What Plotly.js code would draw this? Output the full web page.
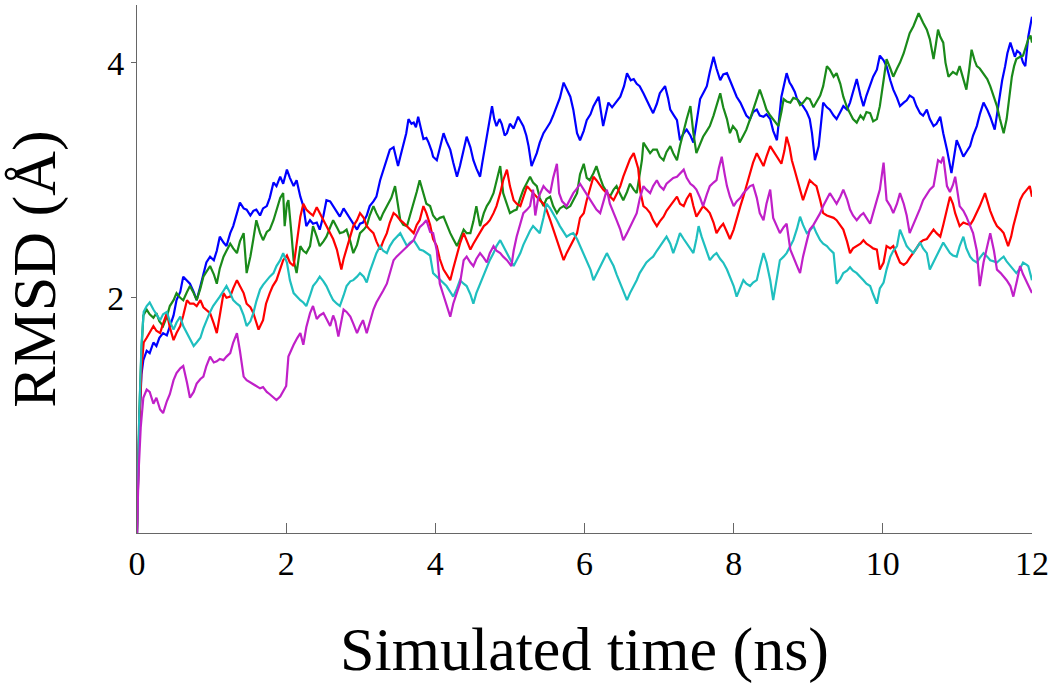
<!DOCTYPE html>
<html>
<head>
<meta charset="utf-8">
<script src="https://cdn.plot.ly/plotly-3.0.1.min.js"></script>
<style>html,body{margin:0;padding:0;background:#fff;}#chart{width:1050px;height:684px;}</style>
</head>
<body>
<div id="chart"></div>
<script>
// ---- Data (time in ns, RMSD in Å) ----
const xTicks = [0, 2, 4, 6, 8, 10, 12];
const yTicks = [2, 4];

const blueT = [0,0.03,0.06,0.085,0.13,0.17,0.22,0.26,0.30,0.35,0.40,0.44,0.49,0.53,0.58,0.62,0.67,0.71,0.76,0.80,0.85,0.89,0.93,0.98,1.03,1.07,1.11,1.16,1.20,1.25,1.29,1.34,1.38,1.43,1.47,1.52,1.56,1.60,1.65,1.69,1.74,1.78,1.83,1.87,1.92,1.96,2.01,2.05,2.10,2.14,2.19,2.23,2.27,2.32,2.36,2.41,2.45,2.50,2.54,2.59,2.63,2.68,2.72,2.77,2.81,2.86,2.90,2.95,2.99,3.03,3.08,3.12,3.17,3.21,3.26,3.30,3.35,3.39,3.44,3.50,3.53,3.57,3.61,3.64,3.68,3.71,3.74,3.77,3.81,3.84,3.88,3.91,3.95,3.97,4.02,4.06,4.11,4.15,4.20,4.24,4.29,4.33,4.38,4.42,4.47,4.51,4.55,4.60,4.63,4.67,4.71,4.76,4.79,4.82,4.86,4.89,4.93,4.96,5.00,5.05,5.11,5.15,5.18,5.22,5.25,5.29,5.33,5.36,5.40,5.45,5.49,5.54,5.58,5.63,5.67,5.72,5.76,5.81,5.85,5.90,5.94,5.99,6.03,6.08,6.12,6.19,6.25,6.29,6.32,6.37,6.41,6.45,6.48,6.53,6.57,6.62,6.66,6.70,6.74,6.79,6.83,6.88,6.92,6.97,7.01,7.08,7.12,7.15,7.20,7.24,7.28,7.33,7.37,7.42,7.46,7.50,7.55,7.60,7.64,7.68,7.73,7.77,7.82,7.86,7.91,7.95,8.00,8.04,8.09,8.13,8.17,8.22,8.26,8.31,8.35,8.40,8.44,8.49,8.53,8.58,8.64,8.71,8.75,8.78,8.82,8.85,8.89,8.93,8.98,9.02,9.05,9.09,9.14,9.17,9.20,9.25,9.29,9.34,9.38,9.43,9.47,9.52,9.56,9.60,9.65,9.70,9.74,9.78,9.83,9.87,9.92,9.96,10.01,10.05,10.10,10.14,10.19,10.23,10.28,10.32,10.36,10.41,10.45,10.50,10.54,10.59,10.63,10.68,10.72,10.77,10.81,10.86,10.92,10.95,10.99,11.03,11.08,11.12,11.17,11.21,11.26,11.30,11.35,11.40,11.44,11.50,11.53,11.57,11.60,11.64,11.67,11.71,11.74,11.77,11.80,11.84,11.88,11.91,11.95,11.98,12.0];
const blueR = [0,0.9,1.35,1.47,1.55,1.53,1.62,1.59,1.66,1.70,1.68,1.76,1.85,1.98,2.05,2.18,2.15,2.12,2.05,1.98,2.10,2.21,2.30,2.35,2.32,2.40,2.52,2.47,2.44,2.55,2.61,2.72,2.81,2.76,2.75,2.70,2.74,2.75,2.70,2.76,2.78,2.85,2.98,2.95,3.03,2.97,3.09,3.02,2.95,3.00,2.86,2.78,2.61,2.66,2.63,2.64,2.58,2.70,2.83,2.82,2.78,2.74,2.69,2.76,2.72,2.66,2.62,2.58,2.63,2.64,2.70,2.78,2.82,2.86,3.00,3.08,3.17,3.26,3.28,3.12,3.20,3.29,3.40,3.52,3.48,3.49,3.45,3.54,3.44,3.35,3.36,3.32,3.25,3.20,3.17,3.28,3.40,3.33,3.26,3.15,3.03,3.12,3.26,3.37,3.28,3.17,3.10,3.03,3.15,3.29,3.45,3.63,3.52,3.46,3.52,3.48,3.38,3.40,3.48,3.44,3.54,3.50,3.46,3.38,3.29,3.12,3.18,3.23,3.32,3.40,3.44,3.49,3.55,3.63,3.70,3.83,3.78,3.71,3.60,3.40,3.34,3.42,3.51,3.56,3.63,3.71,3.46,3.58,3.66,3.62,3.65,3.68,3.71,3.80,3.91,3.85,3.86,3.82,3.80,3.74,3.68,3.62,3.57,3.65,3.74,3.80,3.70,3.60,3.55,3.51,3.34,3.40,3.43,3.38,3.32,3.50,3.69,3.75,3.80,3.92,4.05,3.95,3.85,3.90,3.91,3.85,3.77,3.71,3.66,3.60,3.55,3.52,3.58,3.60,3.55,3.54,3.56,3.52,3.42,3.34,3.71,3.91,3.83,3.80,3.75,3.69,3.66,3.63,3.58,3.52,3.40,3.17,3.29,3.50,3.66,3.62,3.60,3.55,3.52,3.58,3.63,3.60,3.66,3.75,3.86,3.72,3.63,3.72,3.80,3.88,3.94,4.06,4.02,3.97,3.85,3.77,3.70,3.63,3.66,3.68,3.72,3.70,3.63,3.57,3.55,3.60,3.52,3.46,3.48,3.54,3.40,3.26,3.06,3.18,3.34,3.28,3.20,3.24,3.29,3.38,3.46,3.56,3.66,3.60,3.54,3.43,3.55,3.74,3.85,3.97,4.08,4.17,4.10,4.05,4.10,4.08,4.00,3.97,4.22,4.32,4.39];

const greenT = [0,0.03,0.06,0.085,0.13,0.17,0.22,0.26,0.30,0.35,0.40,0.44,0.49,0.53,0.58,0.62,0.67,0.71,0.76,0.80,0.85,0.89,0.93,0.98,1.03,1.07,1.11,1.16,1.20,1.25,1.29,1.34,1.38,1.43,1.47,1.52,1.56,1.60,1.65,1.69,1.74,1.78,1.83,1.87,1.92,1.96,1.98,2.01,2.03,2.07,2.10,2.14,2.19,2.23,2.27,2.32,2.36,2.41,2.45,2.50,2.54,2.59,2.63,2.68,2.72,2.77,2.81,2.86,2.90,2.95,2.99,3.04,3.08,3.12,3.17,3.21,3.26,3.30,3.35,3.41,3.46,3.50,3.53,3.57,3.62,3.66,3.71,3.75,3.79,3.84,3.88,3.93,3.97,4.02,4.06,4.11,4.15,4.20,4.24,4.29,4.33,4.38,4.42,4.47,4.51,4.55,4.60,4.65,4.69,4.73,4.78,4.82,4.87,4.91,4.96,5.00,5.05,5.09,5.14,5.18,5.23,5.27,5.31,5.36,5.40,5.45,5.49,5.54,5.58,5.63,5.67,5.72,5.76,5.81,5.85,5.90,5.94,5.99,6.03,6.07,6.12,6.16,6.21,6.25,6.30,6.34,6.39,6.43,6.48,6.52,6.57,6.61,6.66,6.70,6.74,6.77,6.79,6.83,6.88,6.92,6.97,7.01,7.06,7.10,7.15,7.19,7.24,7.28,7.33,7.37,7.42,7.46,7.50,7.55,7.59,7.64,7.68,7.73,7.77,7.82,7.86,7.91,7.95,7.99,8.04,8.08,8.13,8.17,8.22,8.26,8.31,8.35,8.40,8.44,8.49,8.53,8.60,8.64,8.67,8.71,8.76,8.80,8.85,8.89,8.93,8.98,9.02,9.07,9.11,9.16,9.20,9.25,9.29,9.34,9.38,9.43,9.47,9.52,9.56,9.60,9.65,9.70,9.74,9.78,9.83,9.87,9.92,9.96,10.01,10.05,10.10,10.14,10.19,10.23,10.28,10.32,10.36,10.41,10.45,10.48,10.54,10.59,10.63,10.68,10.71,10.74,10.77,10.81,10.84,10.88,10.94,10.99,11.03,11.08,11.12,11.16,11.19,11.23,11.26,11.30,11.35,11.40,11.44,11.48,11.53,11.57,11.62,11.66,11.70,11.73,11.76,11.79,11.84,11.88,11.91,11.95,11.98,12.0];
const greenR = [0,1.0,1.55,1.85,1.90,1.86,1.83,1.87,1.80,1.76,1.84,1.93,1.98,2.04,2.00,1.98,2.05,2.10,2.04,1.98,2.08,2.18,2.22,2.27,2.20,2.12,2.25,2.35,2.40,2.46,2.42,2.38,2.48,2.55,2.21,2.35,2.50,2.66,2.55,2.49,2.56,2.58,2.66,2.75,2.85,2.89,2.61,2.80,2.83,2.55,2.32,2.21,2.44,2.40,2.38,2.44,2.61,2.52,2.44,2.48,2.52,2.60,2.66,2.60,2.55,2.56,2.58,2.48,2.38,2.45,2.55,2.58,2.61,2.70,2.78,2.72,2.66,2.72,2.78,2.85,2.95,2.80,2.66,2.62,2.61,2.70,2.80,2.90,3.00,2.89,2.80,2.78,2.70,2.66,2.68,2.69,2.62,2.55,2.50,2.44,2.50,2.58,2.55,2.55,2.65,2.78,2.61,2.72,2.78,2.82,2.89,3.00,3.12,2.89,2.80,2.72,2.74,2.75,2.85,2.92,2.98,3.03,2.98,2.95,2.85,2.78,2.84,2.86,2.78,2.72,2.76,2.78,2.76,2.78,2.83,2.89,3.05,3.14,3.02,3.00,3.06,3.12,3.02,2.95,2.90,2.86,2.92,2.95,2.88,2.83,2.90,2.97,2.92,2.89,3.05,3.17,3.32,3.28,3.23,3.26,3.26,3.20,3.17,3.24,3.29,3.23,3.17,3.29,3.43,3.52,3.63,3.40,3.23,3.30,3.37,3.42,3.46,3.55,3.63,3.74,3.62,3.52,3.40,3.46,3.42,3.32,3.38,3.43,3.52,3.60,3.68,3.77,3.68,3.60,3.55,3.52,3.46,3.58,3.69,3.67,3.66,3.70,3.69,3.64,3.66,3.70,3.69,3.62,3.66,3.72,3.80,3.97,3.94,3.88,3.91,3.82,3.71,3.62,3.57,3.52,3.49,3.55,3.52,3.58,3.57,3.50,3.52,3.63,3.85,4.03,3.95,3.88,3.95,4.00,4.08,4.17,4.25,4.31,4.38,4.42,4.34,4.28,4.20,4.03,4.15,4.28,4.22,4.17,4.00,3.88,3.92,3.90,3.97,3.85,3.77,3.95,4.11,4.02,3.97,3.95,3.91,3.86,3.80,3.72,3.63,3.52,3.40,3.52,3.72,3.88,3.97,4.03,4.05,4.06,4.12,4.20,4.23,4.17];

const redT = [0,0.03,0.06,0.09,0.13,0.17,0.22,0.26,0.31,0.35,0.40,0.44,0.49,0.53,0.58,0.62,0.67,0.71,0.76,0.80,0.85,0.89,0.93,0.98,1.03,1.07,1.11,1.16,1.20,1.25,1.29,1.34,1.38,1.43,1.47,1.52,1.56,1.60,1.63,1.69,1.73,1.78,1.82,1.87,1.92,1.96,2.01,2.05,2.10,2.14,2.19,2.23,2.27,2.32,2.36,2.41,2.45,2.50,2.54,2.59,2.63,2.68,2.74,2.77,2.81,2.86,2.90,2.95,2.99,3.04,3.08,3.12,3.17,3.21,3.26,3.30,3.35,3.39,3.44,3.48,3.53,3.57,3.62,3.66,3.71,3.75,3.79,3.84,3.88,3.93,3.97,4.02,4.06,4.11,4.15,4.20,4.24,4.29,4.33,4.38,4.42,4.47,4.51,4.55,4.60,4.65,4.69,4.73,4.78,4.82,4.87,4.91,4.96,5.00,5.05,5.09,5.14,5.18,5.23,5.27,5.31,5.36,5.40,5.45,5.49,5.54,5.58,5.63,5.67,5.72,5.76,5.81,5.85,5.90,5.94,5.99,6.03,6.08,6.12,6.16,6.21,6.25,6.30,6.34,6.39,6.43,6.48,6.52,6.57,6.61,6.66,6.72,6.75,6.79,6.83,6.88,6.92,6.97,7.01,7.06,7.10,7.15,7.19,7.24,7.28,7.33,7.37,7.42,7.46,7.50,7.55,7.59,7.64,7.68,7.73,7.77,7.82,7.86,7.91,7.95,8.00,8.04,8.09,8.13,8.17,8.22,8.26,8.31,8.35,8.40,8.44,8.49,8.53,8.58,8.64,8.68,8.71,8.75,8.78,8.82,8.85,8.89,8.93,8.98,9.02,9.07,9.11,9.16,9.20,9.25,9.29,9.34,9.38,9.43,9.47,9.52,9.56,9.60,9.65,9.70,9.74,9.78,9.83,9.87,9.92,9.96,10.01,10.05,10.10,10.14,10.19,10.23,10.28,10.32,10.36,10.41,10.45,10.50,10.54,10.59,10.63,10.68,10.72,10.77,10.81,10.86,10.90,10.94,10.97,11.03,11.08,11.12,11.17,11.21,11.26,11.30,11.37,11.41,11.44,11.49,11.53,11.58,11.62,11.68,11.72,11.75,11.80,11.84,11.88,11.93,11.97,12.0];
const redR = [0,0.9,1.4,1.62,1.66,1.70,1.76,1.72,1.70,1.78,1.87,1.75,1.64,1.70,1.76,1.85,1.98,1.95,1.95,1.93,1.98,1.92,1.90,1.87,1.78,1.70,1.85,2.04,2.00,2.01,2.08,2.15,2.10,2.04,1.95,1.92,1.87,1.80,1.73,1.81,1.95,2.04,2.10,2.15,2.25,2.32,2.36,2.30,2.27,2.45,2.69,2.80,2.75,2.72,2.70,2.77,2.72,2.66,2.62,2.55,2.50,2.41,2.24,2.33,2.41,2.52,2.61,2.66,2.72,2.68,2.61,2.58,2.55,2.48,2.41,2.48,2.55,2.64,2.72,2.70,2.66,2.64,2.61,2.58,2.55,2.62,2.66,2.78,2.72,2.62,2.50,2.44,2.33,2.24,2.20,2.15,2.25,2.38,2.46,2.55,2.48,2.41,2.46,2.50,2.56,2.61,2.63,2.66,2.72,2.78,2.89,3.00,3.09,2.95,2.83,2.80,2.78,2.86,2.95,2.92,2.89,2.86,2.83,2.80,2.75,2.66,2.58,2.48,2.41,2.32,2.38,2.44,2.50,2.55,2.68,2.72,2.83,2.95,3.03,3.00,2.95,2.92,2.89,2.86,2.83,2.88,2.95,3.03,3.12,3.18,3.23,3.10,2.90,2.78,2.76,2.72,2.66,2.61,2.65,2.69,2.74,2.78,2.82,2.86,2.80,2.78,2.84,2.89,2.78,2.69,2.74,2.78,2.75,2.72,2.64,2.55,2.60,2.63,2.56,2.50,2.58,2.68,2.78,2.86,2.95,3.06,3.15,3.23,3.18,3.12,3.20,3.29,3.25,3.20,3.14,3.25,3.37,3.28,3.17,3.08,3.00,2.92,2.83,2.92,3.00,2.97,2.95,2.83,2.72,2.70,2.69,2.68,2.66,2.62,2.58,2.48,2.38,2.42,2.44,2.46,2.49,2.46,2.44,2.42,2.41,2.24,2.30,2.44,2.42,2.44,2.36,2.30,2.28,2.30,2.34,2.38,2.42,2.47,2.49,2.50,2.54,2.58,2.55,2.52,2.62,2.75,2.86,2.80,2.72,2.61,2.64,2.63,2.62,2.66,2.72,2.78,2.89,2.80,2.74,2.66,2.61,2.58,2.55,2.44,2.52,2.61,2.72,2.83,2.88,2.92,2.95,2.86];

const cyanT = [0,0.03,0.06,0.09,0.13,0.17,0.22,0.26,0.31,0.35,0.40,0.44,0.49,0.53,0.58,0.62,0.67,0.71,0.76,0.80,0.85,0.89,0.93,0.98,1.02,1.07,1.11,1.16,1.20,1.25,1.29,1.34,1.38,1.43,1.47,1.52,1.56,1.60,1.65,1.69,1.74,1.78,1.83,1.87,1.92,1.96,2.01,2.05,2.10,2.14,2.19,2.23,2.27,2.32,2.36,2.41,2.45,2.50,2.54,2.59,2.63,2.68,2.72,2.77,2.81,2.86,2.90,2.95,2.99,3.04,3.08,3.12,3.17,3.21,3.26,3.30,3.35,3.39,3.44,3.48,3.53,3.57,3.62,3.66,3.71,3.75,3.79,3.84,3.88,3.93,3.97,4.02,4.06,4.11,4.15,4.20,4.24,4.29,4.33,4.38,4.42,4.47,4.51,4.55,4.60,4.65,4.69,4.73,4.78,4.82,4.87,4.91,4.96,5.00,5.05,5.09,5.14,5.18,5.23,5.27,5.31,5.36,5.40,5.45,5.49,5.54,5.58,5.63,5.67,5.72,5.76,5.81,5.85,5.90,5.94,5.99,6.03,6.08,6.12,6.16,6.21,6.25,6.30,6.34,6.39,6.43,6.48,6.52,6.57,6.61,6.66,6.70,6.74,6.79,6.83,6.88,6.92,6.97,7.01,7.06,7.10,7.15,7.19,7.24,7.28,7.33,7.37,7.42,7.46,7.50,7.53,7.57,7.62,7.68,7.73,7.77,7.82,7.86,7.91,7.95,8.00,8.04,8.09,8.13,8.17,8.22,8.26,8.31,8.35,8.40,8.44,8.49,8.53,8.58,8.62,8.67,8.71,8.76,8.80,8.85,8.89,8.93,8.98,9.02,9.07,9.11,9.16,9.20,9.25,9.29,9.34,9.38,9.43,9.47,9.52,9.56,9.60,9.65,9.70,9.74,9.78,9.83,9.87,9.92,9.96,10.01,10.05,10.10,10.14,10.19,10.23,10.28,10.32,10.36,10.41,10.45,10.50,10.54,10.59,10.63,10.68,10.72,10.77,10.81,10.86,10.90,10.94,10.99,11.03,11.08,11.12,11.17,11.21,11.26,11.30,11.35,11.40,11.44,11.49,11.53,11.58,11.62,11.66,11.71,11.75,11.79,11.84,11.88,11.93,11.95,12.0];
const cyanR = [0,1.0,1.6,1.88,1.93,1.96,1.90,1.86,1.81,1.86,1.88,1.80,1.73,1.79,1.84,1.76,1.70,1.64,1.59,1.62,1.66,1.74,1.81,1.88,1.93,1.97,2.01,2.06,2.10,2.04,1.98,1.95,1.93,1.85,1.76,1.80,1.87,1.97,2.07,2.11,2.15,2.18,2.21,2.27,2.32,2.38,2.30,2.15,2.04,2.01,1.98,1.96,1.93,2.02,2.10,2.14,2.18,2.14,2.10,2.03,1.98,1.95,1.93,2.02,2.10,2.14,2.15,2.18,2.21,2.18,2.13,2.22,2.30,2.38,2.44,2.40,2.38,2.44,2.49,2.52,2.55,2.50,2.44,2.47,2.49,2.45,2.41,2.40,2.38,2.36,2.21,2.18,2.16,2.13,2.10,2.05,2.01,2.08,2.15,2.12,2.10,2.03,1.95,2.04,2.12,2.20,2.27,2.32,2.38,2.44,2.49,2.44,2.38,2.33,2.27,2.32,2.38,2.45,2.52,2.57,2.61,2.58,2.55,2.68,2.80,2.76,2.72,2.66,2.61,2.56,2.52,2.54,2.55,2.50,2.44,2.38,2.32,2.24,2.15,2.20,2.26,2.32,2.38,2.33,2.27,2.20,2.12,2.06,1.98,2.04,2.10,2.15,2.21,2.26,2.30,2.33,2.35,2.40,2.44,2.48,2.52,2.46,2.38,2.47,2.55,2.50,2.46,2.42,2.38,2.50,2.61,2.52,2.43,2.32,2.36,2.38,2.33,2.30,2.24,2.18,2.10,2.01,2.08,2.15,2.12,2.10,2.13,2.15,2.26,2.38,2.30,2.15,1.98,2.15,2.32,2.35,2.38,2.44,2.49,2.59,2.69,2.62,2.55,2.57,2.61,2.55,2.49,2.46,2.44,2.41,2.38,2.12,2.16,2.21,2.23,2.26,2.23,2.21,2.18,2.15,2.12,2.10,2.03,1.95,2.08,2.13,2.24,2.35,2.40,2.44,2.58,2.50,2.44,2.41,2.38,2.42,2.47,2.42,2.38,2.24,2.30,2.36,2.42,2.47,2.42,2.38,2.36,2.35,2.44,2.52,2.42,2.35,2.32,2.30,2.34,2.38,2.35,2.32,2.31,2.30,2.33,2.35,2.31,2.27,2.24,2.21,2.25,2.30,2.28,2.27,2.15];

const magT = [0,0.02,0.05,0.085,0.13,0.17,0.22,0.26,0.31,0.35,0.40,0.44,0.49,0.53,0.58,0.62,0.67,0.71,0.76,0.80,0.85,0.89,0.93,0.98,1.03,1.07,1.11,1.16,1.20,1.25,1.29,1.34,1.38,1.43,1.47,1.52,1.56,1.60,1.65,1.69,1.74,1.78,1.83,1.87,1.92,1.96,2.00,2.03,2.07,2.10,2.15,2.19,2.23,2.27,2.32,2.36,2.41,2.45,2.50,2.54,2.59,2.63,2.66,2.70,2.74,2.77,2.81,2.86,2.90,2.95,2.99,3.03,3.08,3.12,3.17,3.21,3.26,3.30,3.35,3.39,3.44,3.48,3.53,3.57,3.62,3.66,3.71,3.75,3.79,3.84,3.88,3.93,3.97,4.02,4.06,4.11,4.15,4.20,4.24,4.29,4.33,4.38,4.42,4.47,4.51,4.55,4.60,4.65,4.69,4.73,4.78,4.82,4.87,4.91,4.96,5.02,5.05,5.09,5.14,5.18,5.23,5.27,5.31,5.34,5.38,5.45,5.49,5.54,5.58,5.63,5.66,5.70,5.76,5.81,5.85,5.90,5.94,5.99,6.03,6.08,6.12,6.16,6.21,6.25,6.30,6.34,6.39,6.43,6.48,6.52,6.57,6.61,6.66,6.70,6.74,6.79,6.83,6.88,6.92,6.97,7.01,7.06,7.10,7.15,7.19,7.24,7.28,7.33,7.37,7.42,7.46,7.50,7.55,7.59,7.64,7.68,7.73,7.77,7.80,7.84,7.88,7.91,7.95,8.00,8.04,8.09,8.13,8.17,8.22,8.26,8.31,8.35,8.40,8.44,8.49,8.53,8.58,8.62,8.67,8.71,8.76,8.80,8.85,8.89,8.93,8.98,9.02,9.07,9.11,9.16,9.20,9.25,9.29,9.34,9.38,9.43,9.47,9.52,9.56,9.60,9.65,9.70,9.74,9.78,9.83,9.87,9.92,9.96,10.01,10.05,10.10,10.14,10.19,10.23,10.28,10.32,10.36,10.41,10.45,10.50,10.54,10.59,10.63,10.68,10.74,10.78,10.81,10.86,10.90,10.94,10.97,11.03,11.08,11.12,11.17,11.21,11.26,11.30,11.35,11.40,11.44,11.49,11.53,11.58,11.62,11.66,11.71,11.75,11.80,11.84,11.88,11.93,11.97,12.0];
const magR = [0,0.5,0.9,1.15,1.22,1.20,1.10,1.15,1.05,1.02,1.12,1.18,1.30,1.36,1.40,1.42,1.28,1.15,1.20,1.27,1.31,1.33,1.42,1.50,1.45,1.46,1.48,1.47,1.50,1.53,1.62,1.70,1.55,1.33,1.30,1.28,1.26,1.25,1.23,1.24,1.20,1.18,1.15,1.13,1.16,1.20,1.25,1.50,1.56,1.60,1.66,1.70,1.60,1.75,1.87,1.93,1.82,1.85,1.87,1.82,1.76,1.85,1.80,1.67,1.80,1.90,1.88,1.84,1.78,1.70,1.76,1.81,1.70,1.80,1.90,1.96,2.01,2.06,2.12,2.22,2.32,2.35,2.38,2.41,2.44,2.46,2.49,2.55,2.60,2.63,2.66,2.56,2.55,2.40,2.12,2.02,1.93,1.84,1.95,2.05,2.12,2.32,2.35,2.30,2.27,2.33,2.38,2.34,2.30,2.38,2.44,2.40,2.38,2.35,2.32,2.27,2.40,2.52,2.62,2.72,2.75,2.78,2.92,2.70,2.85,2.95,2.92,2.89,3.02,3.14,2.89,2.82,2.78,2.84,2.89,2.93,2.97,2.92,2.88,2.82,2.78,2.75,2.72,2.80,2.92,2.80,2.73,2.66,2.58,2.49,2.55,2.60,2.66,2.72,2.84,2.95,2.92,2.89,2.95,3.00,2.95,2.92,2.97,3.00,3.02,3.03,3.06,3.09,3.02,2.97,2.95,2.92,2.85,2.78,2.88,2.95,2.98,3.00,3.10,3.20,3.05,2.95,2.86,2.78,2.82,2.85,2.89,2.92,2.95,2.96,2.85,2.72,2.66,2.80,2.92,2.68,2.60,2.55,2.60,2.63,2.41,2.34,2.27,2.21,2.35,2.48,2.58,2.62,2.66,2.72,2.78,2.84,2.89,2.84,2.80,2.86,2.92,2.84,2.75,2.70,2.66,2.70,2.72,2.68,2.63,2.72,2.82,2.92,3.15,2.83,2.78,2.72,2.80,2.89,2.80,2.70,2.55,2.62,2.69,2.76,2.83,2.88,2.92,2.95,3.17,3.15,3.20,2.95,2.90,2.96,3.03,2.78,2.74,2.69,2.62,2.55,2.40,2.10,2.30,2.45,2.55,2.40,2.24,2.21,2.18,2.15,2.10,2.01,2.15,2.27,2.20,2.13,2.08,2.04];

const seriesList = [
  {t: blueT,  r: blueR,  color: '#0000ff'},
  {t: greenT, r: greenR, color: '#1a8a1a'},
  {t: redT,   r: redR,   color: '#ff0000'},
  {t: cyanT,  r: cyanR,  color: '#1fbfbf'},
  {t: magT,   r: magR,   color: '#c020c8'}
];

const traces = seriesList.map(s => ({
  x: s.t, y: s.r, type: 'scatter', mode: 'lines',
  line: {color: s.color, width: 2.2},
  hoverinfo: 'skip', showlegend: false
}));

const serif = 'Liberation Serif, Times New Roman, serif';
const layout = {
  width: 1050, height: 684,
  margin: {l: 137, r: 18, t: 5, b: 151},
  paper_bgcolor: '#ffffff', plot_bgcolor: '#ffffff',
  showlegend: false,
  xaxis: {
    range: [0, 12], tickvals: xTicks, ticktext: xTicks.map(String),
    ticks: 'inside', ticklen: 10, tickwidth: 1, tickcolor: '#666666',
    showline: true, linecolor: '#666666', linewidth: 1, mirror: false,
    showgrid: false, zeroline: false,
    tickfont: {family: serif, size: 34, color: '#000000'},
    title: {text: 'Simulated time (ns)', font: {family: serif, size: 62, color: '#000000'}, standoff: 50}
  },
  yaxis: {
    range: [0, 4.49], tickvals: yTicks, ticktext: yTicks.map(String),
    ticks: 'outside', ticklen: 5, tickwidth: 1, tickcolor: '#666666',
    showline: true, linecolor: '#666666', linewidth: 1, mirror: false,
    showgrid: false, zeroline: false,
    tickfont: {family: serif, size: 34, color: '#000000'},
    title: {text: 'RMSD (Å)', font: {family: serif, size: 62, color: '#000000'}, standoff: 34}
  }
};

Plotly.newPlot('chart', traces, layout, {staticPlot: true, displayModeBar: false});
</script>
</body>
</html>
